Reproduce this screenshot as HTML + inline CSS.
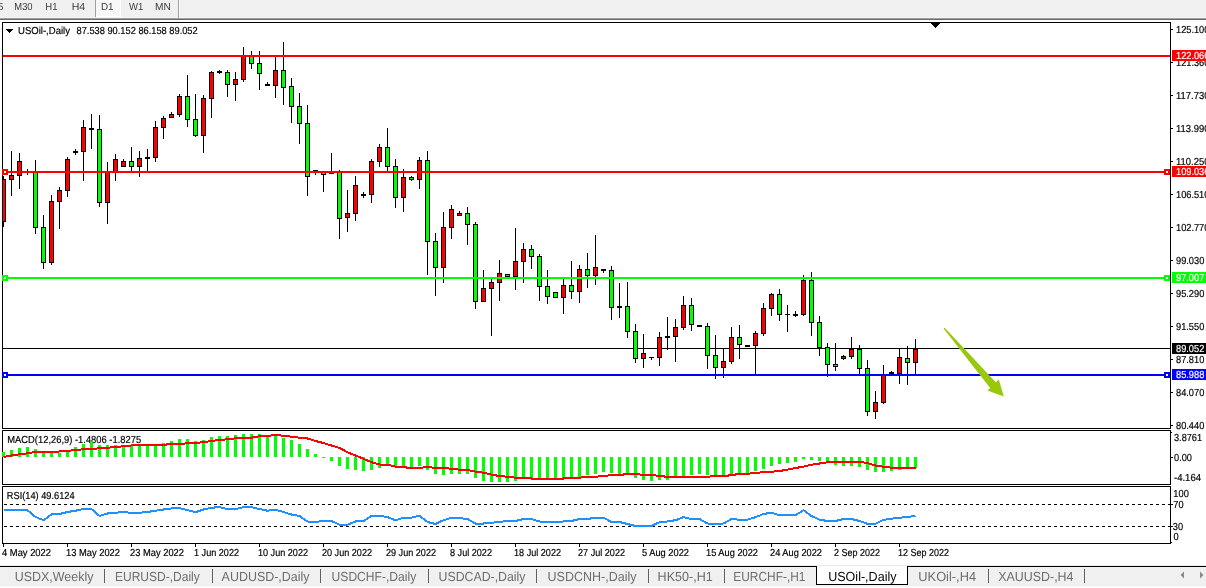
<!DOCTYPE html>
<html><head><meta charset="utf-8"><title>USOil-,Daily</title>
<style>
html,body{margin:0;padding:0;background:#fff;}
body{width:1206px;height:588px;overflow:hidden;}
svg{display:block;font-family:"Liberation Sans",sans-serif;text-rendering:geometricPrecision;}
</style></head><body>
<svg width="1206" height="588" viewBox="0 0 1206 588" shape-rendering="crispEdges">
<defs><clipPath id="cm"><rect x="3" y="23" width="1167" height="405"/></clipPath></defs>
<rect x="0" y="0" width="1206" height="588" fill="#fff"/>
<rect x="0" y="0" width="1206" height="17" fill="#f0f0f0"/>
<rect x="0" y="17" width="1206" height="1" fill="#f6f6f6"/>
<rect x="0" y="18" width="1206" height="1" fill="#a0a0a0"/>
<rect x="0" y="19" width="1206" height="1" fill="#696969"/>
<rect x="95" y="0" width="1" height="17" fill="#a0a0a0"/>
<rect x="96" y="0" width="24" height="16" fill="#f8f8f8"/>
<rect x="96" y="16" width="25" height="1" fill="#ffffff"/>
<rect x="120" y="0" width="1" height="17" fill="#ffffff"/>
<rect x="178" y="0" width="1" height="18" fill="#a0a0a0"/>
<rect x="179" y="0" width="1" height="18" fill="#fbfbfb"/>
<text x="-15.4" y="10" font-size="10.2" fill="#3c3c3c" stroke="#3c3c3c" stroke-width="0" textLength="18.8" lengthAdjust="spacingAndGlyphs">M15</text>
<text x="14.3" y="10" font-size="10.2" fill="#3c3c3c" stroke="#3c3c3c" stroke-width="0" textLength="18.3" lengthAdjust="spacingAndGlyphs">M30</text>
<text x="45.3" y="10" font-size="10.2" fill="#3c3c3c" stroke="#3c3c3c" stroke-width="0" textLength="12.2" lengthAdjust="spacingAndGlyphs">H1</text>
<text x="71.7" y="10" font-size="10.2" fill="#3c3c3c" stroke="#3c3c3c" stroke-width="0" textLength="13.5" lengthAdjust="spacingAndGlyphs">H4</text>
<text x="101" y="10" font-size="10.2" fill="#3c3c3c" stroke="#3c3c3c" stroke-width="0" textLength="12.6" lengthAdjust="spacingAndGlyphs">D1</text>
<text x="129" y="10" font-size="10.2" fill="#3c3c3c" stroke="#3c3c3c" stroke-width="0" textLength="14.3" lengthAdjust="spacingAndGlyphs">W1</text>
<text x="155" y="10" font-size="10.2" fill="#3c3c3c" stroke="#3c3c3c" stroke-width="0" textLength="15.8" lengthAdjust="spacingAndGlyphs">MN</text>
<rect x="2" y="22" width="1169" height="1" fill="#000"/>
<rect x="2" y="428" width="1169" height="1" fill="#000"/>
<rect x="2" y="22" width="1" height="407" fill="#000"/>
<rect x="1170" y="22" width="1" height="407" fill="#000"/>
<rect x="2" y="430" width="1169" height="1" fill="#000"/>
<rect x="2" y="484" width="1169" height="1" fill="#000"/>
<rect x="2" y="430" width="1" height="55" fill="#000"/>
<rect x="1170" y="430" width="1" height="55" fill="#000"/>
<rect x="2" y="486" width="1169" height="1" fill="#000"/>
<rect x="2" y="543" width="1169" height="1" fill="#000"/>
<rect x="2" y="486" width="1" height="58" fill="#000"/>
<rect x="1170" y="486" width="1" height="58" fill="#000"/>
<rect x="3" y="348" width="1167" height="1" fill="#000"/>
<g clip-path="url(#cm)">
<rect x="3" y="176" width="1" height="51" fill="#000"/>
<rect x="1" y="179" width="5" height="43" fill="#000"/>
<rect x="2" y="180" width="3" height="41" fill="#ff0000"/>
<rect x="11" y="151" width="1" height="45" fill="#000"/>
<rect x="9" y="175" width="5" height="5" fill="#000"/>
<rect x="10" y="176" width="3" height="3" fill="#ff0000"/>
<rect x="19" y="153" width="1" height="36" fill="#000"/>
<rect x="17" y="161" width="5" height="15" fill="#000"/>
<rect x="18" y="162" width="3" height="13" fill="#ff0000"/>
<rect x="27" y="169" width="1" height="6" fill="#000"/>
<rect x="25" y="171" width="5" height="1" fill="#000"/>
<rect x="35" y="160" width="1" height="74" fill="#000"/>
<rect x="33" y="172" width="5" height="56" fill="#000"/>
<rect x="34" y="173" width="3" height="54" fill="#00ff00"/>
<rect x="43" y="215" width="1" height="54" fill="#000"/>
<rect x="41" y="227" width="5" height="36" fill="#000"/>
<rect x="42" y="228" width="3" height="34" fill="#00ff00"/>
<rect x="51" y="195" width="1" height="70" fill="#000"/>
<rect x="49" y="201" width="5" height="62" fill="#000"/>
<rect x="50" y="202" width="3" height="60" fill="#ff0000"/>
<rect x="59" y="187" width="1" height="42" fill="#000"/>
<rect x="57" y="190" width="5" height="12" fill="#000"/>
<rect x="58" y="191" width="3" height="10" fill="#ff0000"/>
<rect x="67" y="157" width="1" height="40" fill="#000"/>
<rect x="65" y="159" width="5" height="32" fill="#000"/>
<rect x="66" y="160" width="3" height="30" fill="#ff0000"/>
<rect x="75" y="149" width="1" height="6" fill="#000"/>
<rect x="73" y="151" width="5" height="2" fill="#000"/>
<rect x="83" y="120" width="1" height="61" fill="#000"/>
<rect x="81" y="127" width="5" height="25" fill="#000"/>
<rect x="82" y="128" width="3" height="23" fill="#ff0000"/>
<rect x="91" y="114" width="1" height="35" fill="#000"/>
<rect x="89" y="128" width="5" height="2" fill="#000"/>
<rect x="99" y="115" width="1" height="92" fill="#000"/>
<rect x="97" y="129" width="5" height="74" fill="#000"/>
<rect x="98" y="130" width="3" height="72" fill="#00ff00"/>
<rect x="107" y="162" width="1" height="62" fill="#000"/>
<rect x="105" y="172" width="5" height="31" fill="#000"/>
<rect x="106" y="173" width="3" height="29" fill="#ff0000"/>
<rect x="115" y="154" width="1" height="27" fill="#000"/>
<rect x="113" y="159" width="5" height="13" fill="#000"/>
<rect x="114" y="160" width="3" height="11" fill="#ff0000"/>
<rect x="123" y="159" width="1" height="8" fill="#000"/>
<rect x="121" y="161" width="5" height="6" fill="#000"/>
<rect x="122" y="162" width="3" height="4" fill="#ff0000"/>
<rect x="131" y="147" width="1" height="25" fill="#000"/>
<rect x="129" y="161" width="5" height="6" fill="#000"/>
<rect x="130" y="162" width="3" height="4" fill="#00ff00"/>
<rect x="139" y="151" width="1" height="26" fill="#000"/>
<rect x="137" y="158" width="5" height="9" fill="#000"/>
<rect x="138" y="159" width="3" height="7" fill="#ff0000"/>
<rect x="147" y="149" width="1" height="23" fill="#000"/>
<rect x="145" y="157" width="5" height="2" fill="#000"/>
<rect x="155" y="121" width="1" height="41" fill="#000"/>
<rect x="153" y="127" width="5" height="31" fill="#000"/>
<rect x="154" y="128" width="3" height="29" fill="#ff0000"/>
<rect x="163" y="116" width="1" height="23" fill="#000"/>
<rect x="161" y="118" width="5" height="10" fill="#000"/>
<rect x="162" y="119" width="3" height="8" fill="#ff0000"/>
<rect x="171" y="112" width="1" height="6" fill="#000"/>
<rect x="169" y="114" width="5" height="4" fill="#000"/>
<rect x="170" y="115" width="3" height="2" fill="#ff0000"/>
<rect x="179" y="94" width="1" height="23" fill="#000"/>
<rect x="177" y="96" width="5" height="19" fill="#000"/>
<rect x="178" y="97" width="3" height="17" fill="#ff0000"/>
<rect x="187" y="75" width="1" height="52" fill="#000"/>
<rect x="185" y="96" width="5" height="24" fill="#000"/>
<rect x="186" y="97" width="3" height="22" fill="#00ff00"/>
<rect x="195" y="94" width="1" height="43" fill="#000"/>
<rect x="193" y="119" width="5" height="17" fill="#000"/>
<rect x="194" y="120" width="3" height="15" fill="#00ff00"/>
<rect x="203" y="95" width="1" height="58" fill="#000"/>
<rect x="201" y="98" width="5" height="38" fill="#000"/>
<rect x="202" y="99" width="3" height="36" fill="#ff0000"/>
<rect x="211" y="71" width="1" height="47" fill="#000"/>
<rect x="209" y="72" width="5" height="27" fill="#000"/>
<rect x="210" y="73" width="3" height="25" fill="#ff0000"/>
<rect x="219" y="70" width="1" height="4" fill="#000"/>
<rect x="217" y="71" width="5" height="2" fill="#000"/>
<rect x="227" y="70" width="1" height="27" fill="#000"/>
<rect x="225" y="72" width="5" height="13" fill="#000"/>
<rect x="226" y="73" width="3" height="11" fill="#00ff00"/>
<rect x="235" y="72" width="1" height="29" fill="#000"/>
<rect x="233" y="79" width="5" height="6" fill="#000"/>
<rect x="234" y="80" width="3" height="4" fill="#ff0000"/>
<rect x="243" y="47" width="1" height="35" fill="#000"/>
<rect x="241" y="56" width="5" height="24" fill="#000"/>
<rect x="242" y="57" width="3" height="22" fill="#ff0000"/>
<rect x="251" y="51" width="1" height="18" fill="#000"/>
<rect x="249" y="56" width="5" height="8" fill="#000"/>
<rect x="250" y="57" width="3" height="6" fill="#00ff00"/>
<rect x="259" y="51" width="1" height="39" fill="#000"/>
<rect x="257" y="63" width="5" height="11" fill="#000"/>
<rect x="258" y="64" width="3" height="9" fill="#00ff00"/>
<rect x="267" y="82" width="1" height="4" fill="#000"/>
<rect x="265" y="84" width="5" height="2" fill="#000"/>
<rect x="275" y="57" width="1" height="41" fill="#000"/>
<rect x="273" y="70" width="5" height="16" fill="#000"/>
<rect x="274" y="71" width="3" height="14" fill="#ff0000"/>
<rect x="283" y="42" width="1" height="63" fill="#000"/>
<rect x="281" y="70" width="5" height="18" fill="#000"/>
<rect x="282" y="71" width="3" height="16" fill="#00ff00"/>
<rect x="291" y="78" width="1" height="45" fill="#000"/>
<rect x="289" y="86" width="5" height="21" fill="#000"/>
<rect x="290" y="87" width="3" height="19" fill="#00ff00"/>
<rect x="299" y="93" width="1" height="51" fill="#000"/>
<rect x="297" y="106" width="5" height="18" fill="#000"/>
<rect x="298" y="107" width="3" height="16" fill="#00ff00"/>
<rect x="307" y="105" width="1" height="91" fill="#000"/>
<rect x="305" y="123" width="5" height="54" fill="#000"/>
<rect x="306" y="124" width="3" height="52" fill="#00ff00"/>
<rect x="315" y="170" width="1" height="5" fill="#000"/>
<rect x="313" y="170" width="5" height="1" fill="#000"/>
<rect x="323" y="171" width="1" height="21" fill="#000"/>
<rect x="321" y="171" width="5" height="4" fill="#000"/>
<rect x="322" y="172" width="3" height="2" fill="#00ff00"/>
<rect x="331" y="153" width="1" height="21" fill="#000"/>
<rect x="329" y="173" width="5" height="1" fill="#000"/>
<rect x="339" y="170" width="1" height="69" fill="#000"/>
<rect x="337" y="172" width="5" height="47" fill="#000"/>
<rect x="338" y="173" width="3" height="45" fill="#00ff00"/>
<rect x="347" y="190" width="1" height="42" fill="#000"/>
<rect x="345" y="213" width="5" height="5" fill="#000"/>
<rect x="346" y="214" width="3" height="3" fill="#ff0000"/>
<rect x="355" y="176" width="1" height="45" fill="#000"/>
<rect x="353" y="185" width="5" height="29" fill="#000"/>
<rect x="354" y="186" width="3" height="27" fill="#ff0000"/>
<rect x="363" y="192" width="1" height="6" fill="#000"/>
<rect x="361" y="194" width="5" height="2" fill="#000"/>
<rect x="371" y="159" width="1" height="44" fill="#000"/>
<rect x="369" y="161" width="5" height="34" fill="#000"/>
<rect x="370" y="162" width="3" height="32" fill="#ff0000"/>
<rect x="379" y="144" width="1" height="23" fill="#000"/>
<rect x="377" y="147" width="5" height="15" fill="#000"/>
<rect x="378" y="148" width="3" height="13" fill="#ff0000"/>
<rect x="387" y="128" width="1" height="43" fill="#000"/>
<rect x="385" y="147" width="5" height="20" fill="#000"/>
<rect x="386" y="148" width="3" height="18" fill="#00ff00"/>
<rect x="395" y="159" width="1" height="49" fill="#000"/>
<rect x="393" y="166" width="5" height="32" fill="#000"/>
<rect x="394" y="167" width="3" height="30" fill="#00ff00"/>
<rect x="403" y="169" width="1" height="43" fill="#000"/>
<rect x="401" y="177" width="5" height="21" fill="#000"/>
<rect x="402" y="178" width="3" height="19" fill="#ff0000"/>
<rect x="411" y="176" width="1" height="5" fill="#000"/>
<rect x="409" y="177" width="5" height="3" fill="#000"/>
<rect x="410" y="178" width="3" height="1" fill="#00ff00"/>
<rect x="419" y="157" width="1" height="32" fill="#000"/>
<rect x="417" y="160" width="5" height="20" fill="#000"/>
<rect x="418" y="161" width="3" height="18" fill="#ff0000"/>
<rect x="427" y="151" width="1" height="124" fill="#000"/>
<rect x="425" y="160" width="5" height="82" fill="#000"/>
<rect x="426" y="161" width="3" height="80" fill="#00ff00"/>
<rect x="435" y="233" width="1" height="63" fill="#000"/>
<rect x="433" y="241" width="5" height="27" fill="#000"/>
<rect x="434" y="242" width="3" height="25" fill="#00ff00"/>
<rect x="443" y="212" width="1" height="71" fill="#000"/>
<rect x="441" y="227" width="5" height="41" fill="#000"/>
<rect x="442" y="228" width="3" height="39" fill="#ff0000"/>
<rect x="451" y="205" width="1" height="34" fill="#000"/>
<rect x="449" y="209" width="5" height="19" fill="#000"/>
<rect x="450" y="210" width="3" height="17" fill="#ff0000"/>
<rect x="459" y="211" width="1" height="5" fill="#000"/>
<rect x="457" y="213" width="5" height="3" fill="#000"/>
<rect x="458" y="214" width="3" height="1" fill="#ff0000"/>
<rect x="467" y="207" width="1" height="38" fill="#000"/>
<rect x="465" y="213" width="5" height="12" fill="#000"/>
<rect x="466" y="214" width="3" height="10" fill="#00ff00"/>
<rect x="475" y="222" width="1" height="87" fill="#000"/>
<rect x="473" y="224" width="5" height="78" fill="#000"/>
<rect x="474" y="225" width="3" height="76" fill="#00ff00"/>
<rect x="483" y="270" width="1" height="32" fill="#000"/>
<rect x="481" y="288" width="5" height="14" fill="#000"/>
<rect x="482" y="289" width="3" height="12" fill="#ff0000"/>
<rect x="491" y="279" width="1" height="57" fill="#000"/>
<rect x="489" y="282" width="5" height="7" fill="#000"/>
<rect x="490" y="283" width="3" height="5" fill="#ff0000"/>
<rect x="499" y="260" width="1" height="41" fill="#000"/>
<rect x="497" y="273" width="5" height="10" fill="#000"/>
<rect x="498" y="274" width="3" height="8" fill="#ff0000"/>
<rect x="507" y="274" width="1" height="3" fill="#000"/>
<rect x="505" y="274" width="5" height="3" fill="#000"/>
<rect x="506" y="275" width="3" height="1" fill="#00ff00"/>
<rect x="515" y="228" width="1" height="62" fill="#000"/>
<rect x="513" y="261" width="5" height="16" fill="#000"/>
<rect x="514" y="262" width="3" height="14" fill="#ff0000"/>
<rect x="523" y="243" width="1" height="40" fill="#000"/>
<rect x="521" y="249" width="5" height="13" fill="#000"/>
<rect x="522" y="250" width="3" height="11" fill="#ff0000"/>
<rect x="531" y="245" width="1" height="24" fill="#000"/>
<rect x="529" y="249" width="5" height="8" fill="#000"/>
<rect x="530" y="250" width="3" height="6" fill="#00ff00"/>
<rect x="539" y="254" width="1" height="47" fill="#000"/>
<rect x="537" y="256" width="5" height="31" fill="#000"/>
<rect x="538" y="257" width="3" height="29" fill="#00ff00"/>
<rect x="547" y="270" width="1" height="34" fill="#000"/>
<rect x="545" y="286" width="5" height="11" fill="#000"/>
<rect x="546" y="287" width="3" height="9" fill="#00ff00"/>
<rect x="555" y="292" width="1" height="6" fill="#000"/>
<rect x="553" y="292" width="5" height="6" fill="#000"/>
<rect x="554" y="293" width="3" height="4" fill="#00ff00"/>
<rect x="563" y="279" width="1" height="35" fill="#000"/>
<rect x="561" y="285" width="5" height="13" fill="#000"/>
<rect x="562" y="286" width="3" height="11" fill="#ff0000"/>
<rect x="571" y="261" width="1" height="38" fill="#000"/>
<rect x="569" y="285" width="5" height="7" fill="#000"/>
<rect x="570" y="286" width="3" height="5" fill="#00ff00"/>
<rect x="579" y="265" width="1" height="38" fill="#000"/>
<rect x="577" y="269" width="5" height="23" fill="#000"/>
<rect x="578" y="270" width="3" height="21" fill="#ff0000"/>
<rect x="587" y="253" width="1" height="35" fill="#000"/>
<rect x="585" y="269" width="5" height="7" fill="#000"/>
<rect x="586" y="270" width="3" height="5" fill="#00ff00"/>
<rect x="595" y="235" width="1" height="50" fill="#000"/>
<rect x="593" y="267" width="5" height="9" fill="#000"/>
<rect x="594" y="268" width="3" height="7" fill="#ff0000"/>
<rect x="603" y="269" width="1" height="4" fill="#000"/>
<rect x="601" y="269" width="5" height="2" fill="#000"/>
<rect x="611" y="266" width="1" height="54" fill="#000"/>
<rect x="609" y="270" width="5" height="38" fill="#000"/>
<rect x="610" y="271" width="3" height="36" fill="#00ff00"/>
<rect x="619" y="283" width="1" height="35" fill="#000"/>
<rect x="617" y="306" width="5" height="2" fill="#000"/>
<rect x="627" y="282" width="1" height="56" fill="#000"/>
<rect x="625" y="306" width="5" height="26" fill="#000"/>
<rect x="626" y="307" width="3" height="24" fill="#00ff00"/>
<rect x="635" y="324" width="1" height="39" fill="#000"/>
<rect x="633" y="331" width="5" height="28" fill="#000"/>
<rect x="634" y="332" width="3" height="26" fill="#00ff00"/>
<rect x="643" y="334" width="1" height="34" fill="#000"/>
<rect x="641" y="353" width="5" height="6" fill="#000"/>
<rect x="642" y="354" width="3" height="4" fill="#ff0000"/>
<rect x="651" y="357" width="1" height="3" fill="#000"/>
<rect x="649" y="357" width="5" height="1" fill="#000"/>
<rect x="659" y="332" width="1" height="34" fill="#000"/>
<rect x="657" y="337" width="5" height="21" fill="#000"/>
<rect x="658" y="338" width="3" height="19" fill="#ff0000"/>
<rect x="667" y="317" width="1" height="33" fill="#000"/>
<rect x="665" y="336" width="5" height="2" fill="#000"/>
<rect x="675" y="319" width="1" height="43" fill="#000"/>
<rect x="673" y="327" width="5" height="10" fill="#000"/>
<rect x="674" y="328" width="3" height="8" fill="#ff0000"/>
<rect x="683" y="296" width="1" height="34" fill="#000"/>
<rect x="681" y="305" width="5" height="23" fill="#000"/>
<rect x="682" y="306" width="3" height="21" fill="#ff0000"/>
<rect x="691" y="298" width="1" height="33" fill="#000"/>
<rect x="689" y="305" width="5" height="20" fill="#000"/>
<rect x="690" y="306" width="3" height="18" fill="#00ff00"/>
<rect x="699" y="325" width="1" height="2" fill="#000"/>
<rect x="697" y="325" width="5" height="2" fill="#000"/>
<rect x="707" y="323" width="1" height="46" fill="#000"/>
<rect x="705" y="326" width="5" height="30" fill="#000"/>
<rect x="706" y="327" width="3" height="28" fill="#00ff00"/>
<rect x="715" y="335" width="1" height="44" fill="#000"/>
<rect x="713" y="355" width="5" height="13" fill="#000"/>
<rect x="714" y="356" width="3" height="11" fill="#00ff00"/>
<rect x="723" y="349" width="1" height="29" fill="#000"/>
<rect x="721" y="361" width="5" height="7" fill="#000"/>
<rect x="722" y="362" width="3" height="5" fill="#ff0000"/>
<rect x="731" y="327" width="1" height="37" fill="#000"/>
<rect x="729" y="337" width="5" height="25" fill="#000"/>
<rect x="730" y="338" width="3" height="23" fill="#ff0000"/>
<rect x="739" y="325" width="1" height="34" fill="#000"/>
<rect x="737" y="337" width="5" height="8" fill="#000"/>
<rect x="738" y="338" width="3" height="6" fill="#00ff00"/>
<rect x="747" y="345" width="1" height="2" fill="#000"/>
<rect x="745" y="345" width="5" height="2" fill="#000"/>
<rect x="755" y="331" width="1" height="44" fill="#000"/>
<rect x="753" y="333" width="5" height="13" fill="#000"/>
<rect x="754" y="334" width="3" height="11" fill="#ff0000"/>
<rect x="763" y="303" width="1" height="33" fill="#000"/>
<rect x="761" y="308" width="5" height="26" fill="#000"/>
<rect x="762" y="309" width="3" height="24" fill="#ff0000"/>
<rect x="771" y="293" width="1" height="23" fill="#000"/>
<rect x="769" y="294" width="5" height="15" fill="#000"/>
<rect x="770" y="295" width="3" height="13" fill="#ff0000"/>
<rect x="779" y="289" width="1" height="32" fill="#000"/>
<rect x="777" y="294" width="5" height="21" fill="#000"/>
<rect x="778" y="295" width="3" height="19" fill="#00ff00"/>
<rect x="787" y="305" width="1" height="27" fill="#000"/>
<rect x="785" y="314" width="5" height="1" fill="#000"/>
<rect x="795" y="311" width="1" height="6" fill="#000"/>
<rect x="793" y="314" width="5" height="2" fill="#000"/>
<rect x="803" y="275" width="1" height="41" fill="#000"/>
<rect x="801" y="280" width="5" height="35" fill="#000"/>
<rect x="802" y="281" width="3" height="33" fill="#ff0000"/>
<rect x="811" y="272" width="1" height="64" fill="#000"/>
<rect x="809" y="280" width="5" height="43" fill="#000"/>
<rect x="810" y="281" width="3" height="41" fill="#00ff00"/>
<rect x="819" y="316" width="1" height="40" fill="#000"/>
<rect x="817" y="322" width="5" height="26" fill="#000"/>
<rect x="818" y="323" width="3" height="24" fill="#00ff00"/>
<rect x="827" y="343" width="1" height="34" fill="#000"/>
<rect x="825" y="347" width="5" height="18" fill="#000"/>
<rect x="826" y="348" width="3" height="16" fill="#00ff00"/>
<rect x="835" y="343" width="1" height="28" fill="#000"/>
<rect x="833" y="364" width="5" height="3" fill="#000"/>
<rect x="834" y="365" width="3" height="1" fill="#00ff00"/>
<rect x="843" y="355" width="1" height="5" fill="#000"/>
<rect x="841" y="356" width="5" height="3" fill="#000"/>
<rect x="842" y="357" width="3" height="1" fill="#ff0000"/>
<rect x="851" y="337" width="1" height="22" fill="#000"/>
<rect x="849" y="349" width="5" height="8" fill="#000"/>
<rect x="850" y="350" width="3" height="6" fill="#ff0000"/>
<rect x="859" y="345" width="1" height="30" fill="#000"/>
<rect x="857" y="349" width="5" height="20" fill="#000"/>
<rect x="858" y="350" width="3" height="18" fill="#00ff00"/>
<rect x="867" y="360" width="1" height="56" fill="#000"/>
<rect x="865" y="368" width="5" height="44" fill="#000"/>
<rect x="866" y="369" width="3" height="42" fill="#00ff00"/>
<rect x="875" y="391" width="1" height="28" fill="#000"/>
<rect x="873" y="402" width="5" height="10" fill="#000"/>
<rect x="874" y="403" width="3" height="8" fill="#ff0000"/>
<rect x="883" y="365" width="1" height="39" fill="#000"/>
<rect x="881" y="375" width="5" height="28" fill="#000"/>
<rect x="882" y="376" width="3" height="26" fill="#ff0000"/>
<rect x="891" y="371" width="1" height="3" fill="#000"/>
<rect x="889" y="372" width="5" height="2" fill="#000"/>
<rect x="899" y="349" width="1" height="35" fill="#000"/>
<rect x="897" y="357" width="5" height="17" fill="#000"/>
<rect x="898" y="358" width="3" height="15" fill="#ff0000"/>
<rect x="907" y="346" width="1" height="39" fill="#000"/>
<rect x="905" y="358" width="5" height="5" fill="#000"/>
<rect x="906" y="359" width="3" height="3" fill="#00ff00"/>
<rect x="915" y="339" width="1" height="36" fill="#000"/>
<rect x="913" y="349" width="5" height="14" fill="#000"/>
<rect x="914" y="350" width="3" height="12" fill="#ff0000"/>
</g>
<rect x="3" y="55" width="1167" height="2" fill="#ff0000"/>
<rect x="3" y="171" width="1167" height="2" fill="#ff0000"/>
<rect x="3" y="277" width="1167" height="2" fill="#00ff00"/>
<rect x="3" y="374" width="1167" height="2" fill="#0000ff"/>
<rect x="2" y="169" width="6" height="6" fill="#ff0000"/>
<rect x="4" y="171" width="2" height="2" fill="#fff"/>
<rect x="1164" y="169" width="6" height="6" fill="#ff0000"/>
<rect x="1166" y="171" width="2" height="2" fill="#fff"/>
<rect x="2" y="275" width="6" height="6" fill="#00ff00"/>
<rect x="4" y="277" width="2" height="2" fill="#fff"/>
<rect x="1164" y="275" width="6" height="6" fill="#00ff00"/>
<rect x="1166" y="277" width="2" height="2" fill="#fff"/>
<rect x="2" y="372" width="6" height="6" fill="#0000ff"/>
<rect x="4" y="374" width="2" height="2" fill="#fff"/>
<rect x="1164" y="372" width="6" height="6" fill="#0000ff"/>
<rect x="1166" y="374" width="2" height="2" fill="#fff"/>
<rect x="931" y="23" width="9" height="1" fill="#000"/>
<rect x="932" y="24" width="7" height="1" fill="#000"/>
<rect x="933" y="25" width="5" height="1" fill="#000"/>
<rect x="934" y="26" width="3" height="1" fill="#000"/>
<rect x="935" y="27" width="1" height="1" fill="#000"/>
<rect x="6" y="29" width="7" height="1" fill="#000"/>
<rect x="7" y="30" width="5" height="1" fill="#000"/>
<rect x="8" y="31" width="3" height="1" fill="#000"/>
<rect x="9" y="32" width="1" height="1" fill="#000"/>
<polygon shape-rendering="geometricPrecision" fill="#98c80a" points="943.6,328.6 944.7,327.7 995.8,382.2 998.8,379.6 1003.8,396.5 987.3,390.6 990.1,387.9"/>
<rect x="1171" y="29" width="2" height="1" fill="#000"/>
<text x="1176" y="32.6" font-size="10.2" fill="#000" stroke="#000" stroke-width="0.18" textLength="33.4" lengthAdjust="spacingAndGlyphs">125.100</text>
<rect x="1171" y="62" width="2" height="1" fill="#000"/>
<text x="1176" y="65.6" font-size="10.2" fill="#000" stroke="#000" stroke-width="0.18" textLength="33.4" lengthAdjust="spacingAndGlyphs">121.360</text>
<rect x="1171" y="95" width="2" height="1" fill="#000"/>
<text x="1176" y="98.6" font-size="10.2" fill="#000" stroke="#000" stroke-width="0.18" textLength="33.4" lengthAdjust="spacingAndGlyphs">117.730</text>
<rect x="1171" y="128" width="2" height="1" fill="#000"/>
<text x="1176" y="131.6" font-size="10.2" fill="#000" stroke="#000" stroke-width="0.18" textLength="33.4" lengthAdjust="spacingAndGlyphs">113.990</text>
<rect x="1171" y="161" width="2" height="1" fill="#000"/>
<text x="1176" y="164.6" font-size="10.2" fill="#000" stroke="#000" stroke-width="0.18" textLength="33.4" lengthAdjust="spacingAndGlyphs">110.250</text>
<rect x="1171" y="194" width="2" height="1" fill="#000"/>
<text x="1176" y="197.6" font-size="10.2" fill="#000" stroke="#000" stroke-width="0.18" textLength="33.4" lengthAdjust="spacingAndGlyphs">106.510</text>
<rect x="1171" y="227" width="2" height="1" fill="#000"/>
<text x="1176" y="230.6" font-size="10.2" fill="#000" stroke="#000" stroke-width="0.18" textLength="33.4" lengthAdjust="spacingAndGlyphs">102.770</text>
<rect x="1171" y="260" width="2" height="1" fill="#000"/>
<text x="1176" y="263.6" font-size="10.2" fill="#000" stroke="#000" stroke-width="0.18" textLength="28.3" lengthAdjust="spacingAndGlyphs">99.030</text>
<rect x="1171" y="293" width="2" height="1" fill="#000"/>
<text x="1176" y="296.6" font-size="10.2" fill="#000" stroke="#000" stroke-width="0.18" textLength="28.3" lengthAdjust="spacingAndGlyphs">95.290</text>
<rect x="1171" y="326" width="2" height="1" fill="#000"/>
<text x="1176" y="329.6" font-size="10.2" fill="#000" stroke="#000" stroke-width="0.18" textLength="28.3" lengthAdjust="spacingAndGlyphs">91.550</text>
<rect x="1171" y="359" width="2" height="1" fill="#000"/>
<text x="1176" y="362.6" font-size="10.2" fill="#000" stroke="#000" stroke-width="0.18" textLength="28.3" lengthAdjust="spacingAndGlyphs">87.810</text>
<rect x="1171" y="392" width="2" height="1" fill="#000"/>
<text x="1176" y="395.6" font-size="10.2" fill="#000" stroke="#000" stroke-width="0.18" textLength="28.3" lengthAdjust="spacingAndGlyphs">84.070</text>
<rect x="1171" y="425" width="2" height="1" fill="#000"/>
<text x="1176" y="428.6" font-size="10.2" fill="#000" stroke="#000" stroke-width="0.18" textLength="28.3" lengthAdjust="spacingAndGlyphs">80.440</text>
<rect x="1172" y="50" width="34" height="11" fill="#ff0000"/>
<text x="1176" y="58.6" font-size="10.2" fill="#fff" stroke="#fff" stroke-width="0.18" textLength="33.4" lengthAdjust="spacingAndGlyphs">122.066</text>
<rect x="1172" y="166" width="34" height="11" fill="#ff0000"/>
<text x="1176" y="174.6" font-size="10.2" fill="#fff" stroke="#fff" stroke-width="0.18" textLength="33.4" lengthAdjust="spacingAndGlyphs">109.036</text>
<rect x="1172" y="272" width="34" height="11" fill="#00ff00"/>
<text x="1176" y="280.6" font-size="10.2" fill="#fff" stroke="#fff" stroke-width="0.18" textLength="28.3" lengthAdjust="spacingAndGlyphs">97.007</text>
<rect x="1172" y="343" width="34" height="11" fill="#000000"/>
<text x="1176" y="351.6" font-size="10.2" fill="#fff" stroke="#fff" stroke-width="0.18" textLength="28.3" lengthAdjust="spacingAndGlyphs">89.052</text>
<rect x="1172" y="369" width="34" height="11" fill="#0000ff"/>
<text x="1176" y="377.6" font-size="10.2" fill="#fff" stroke="#fff" stroke-width="0.18" textLength="28.3" lengthAdjust="spacingAndGlyphs">85.988</text>
<text x="18" y="34" font-size="10.2" fill="#000" stroke="#000" stroke-width="0.18" textLength="52" lengthAdjust="spacingAndGlyphs">USOil-,Daily</text>
<text x="76.5" y="34" font-size="10.2" fill="#000" stroke="#000" stroke-width="0.18" textLength="121.2" lengthAdjust="spacingAndGlyphs">87.538 90.152 86.158 89.052</text>
<text x="7.3" y="443.3" font-size="10.2" fill="#000" stroke="#000" stroke-width="0.18" textLength="133.8" lengthAdjust="spacingAndGlyphs">MACD(12,26,9) -1.4806 -1.8275</text>
<text x="6.8" y="499" font-size="10.2" fill="#000" stroke="#000" stroke-width="0.18" textLength="67.8" lengthAdjust="spacingAndGlyphs">RSI(14) 49.6124</text>
<rect x="2" y="452" width="3" height="5" fill="#00ff00"/>
<rect x="10" y="450" width="3" height="7" fill="#00ff00"/>
<rect x="18" y="448" width="3" height="9" fill="#00ff00"/>
<rect x="26" y="447" width="3" height="10" fill="#00ff00"/>
<rect x="34" y="449" width="3" height="8" fill="#00ff00"/>
<rect x="42" y="453" width="3" height="4" fill="#00ff00"/>
<rect x="50" y="453" width="3" height="4" fill="#00ff00"/>
<rect x="58" y="453" width="3" height="4" fill="#00ff00"/>
<rect x="66" y="451" width="3" height="6" fill="#00ff00"/>
<rect x="74" y="447" width="3" height="10" fill="#00ff00"/>
<rect x="82" y="444" width="3" height="13" fill="#00ff00"/>
<rect x="90" y="441" width="3" height="16" fill="#00ff00"/>
<rect x="98" y="445" width="3" height="12" fill="#00ff00"/>
<rect x="106" y="445" width="3" height="12" fill="#00ff00"/>
<rect x="114" y="445" width="3" height="12" fill="#00ff00"/>
<rect x="122" y="445" width="3" height="12" fill="#00ff00"/>
<rect x="130" y="446" width="3" height="11" fill="#00ff00"/>
<rect x="138" y="446" width="3" height="11" fill="#00ff00"/>
<rect x="146" y="446" width="3" height="11" fill="#00ff00"/>
<rect x="154" y="444" width="3" height="13" fill="#00ff00"/>
<rect x="162" y="443" width="3" height="14" fill="#00ff00"/>
<rect x="170" y="441" width="3" height="16" fill="#00ff00"/>
<rect x="178" y="439" width="3" height="18" fill="#00ff00"/>
<rect x="186" y="439" width="3" height="18" fill="#00ff00"/>
<rect x="194" y="441" width="3" height="16" fill="#00ff00"/>
<rect x="202" y="440" width="3" height="17" fill="#00ff00"/>
<rect x="210" y="437" width="3" height="20" fill="#00ff00"/>
<rect x="218" y="436" width="3" height="21" fill="#00ff00"/>
<rect x="226" y="436" width="3" height="21" fill="#00ff00"/>
<rect x="234" y="435" width="3" height="22" fill="#00ff00"/>
<rect x="242" y="434" width="3" height="23" fill="#00ff00"/>
<rect x="250" y="434" width="3" height="23" fill="#00ff00"/>
<rect x="258" y="434" width="3" height="23" fill="#00ff00"/>
<rect x="266" y="435" width="3" height="22" fill="#00ff00"/>
<rect x="274" y="436" width="3" height="21" fill="#00ff00"/>
<rect x="282" y="438" width="3" height="19" fill="#00ff00"/>
<rect x="290" y="440" width="3" height="17" fill="#00ff00"/>
<rect x="298" y="444" width="3" height="13" fill="#00ff00"/>
<rect x="306" y="449" width="3" height="8" fill="#00ff00"/>
<rect x="314" y="454" width="3" height="3" fill="#00ff00"/>
<rect x="322" y="457" width="3" height="1" fill="#00ff00"/>
<rect x="330" y="457" width="3" height="4" fill="#00ff00"/>
<rect x="338" y="457" width="3" height="9" fill="#00ff00"/>
<rect x="346" y="457" width="3" height="12" fill="#00ff00"/>
<rect x="354" y="457" width="3" height="13" fill="#00ff00"/>
<rect x="362" y="457" width="3" height="14" fill="#00ff00"/>
<rect x="370" y="457" width="3" height="13" fill="#00ff00"/>
<rect x="378" y="457" width="3" height="11" fill="#00ff00"/>
<rect x="386" y="457" width="3" height="9" fill="#00ff00"/>
<rect x="394" y="457" width="3" height="9" fill="#00ff00"/>
<rect x="402" y="457" width="3" height="9" fill="#00ff00"/>
<rect x="410" y="457" width="3" height="10" fill="#00ff00"/>
<rect x="418" y="457" width="3" height="9" fill="#00ff00"/>
<rect x="426" y="457" width="3" height="13" fill="#00ff00"/>
<rect x="434" y="457" width="3" height="17" fill="#00ff00"/>
<rect x="442" y="457" width="3" height="18" fill="#00ff00"/>
<rect x="450" y="457" width="3" height="17" fill="#00ff00"/>
<rect x="458" y="457" width="3" height="17" fill="#00ff00"/>
<rect x="466" y="457" width="3" height="17" fill="#00ff00"/>
<rect x="474" y="457" width="3" height="21" fill="#00ff00"/>
<rect x="482" y="457" width="3" height="24" fill="#00ff00"/>
<rect x="490" y="457" width="3" height="25" fill="#00ff00"/>
<rect x="498" y="457" width="3" height="25" fill="#00ff00"/>
<rect x="506" y="457" width="3" height="25" fill="#00ff00"/>
<rect x="514" y="457" width="3" height="24" fill="#00ff00"/>
<rect x="522" y="457" width="3" height="22" fill="#00ff00"/>
<rect x="530" y="457" width="3" height="21" fill="#00ff00"/>
<rect x="538" y="457" width="3" height="21" fill="#00ff00"/>
<rect x="546" y="457" width="3" height="21" fill="#00ff00"/>
<rect x="554" y="457" width="3" height="21" fill="#00ff00"/>
<rect x="562" y="457" width="3" height="21" fill="#00ff00"/>
<rect x="570" y="457" width="3" height="21" fill="#00ff00"/>
<rect x="578" y="457" width="3" height="20" fill="#00ff00"/>
<rect x="586" y="457" width="3" height="18" fill="#00ff00"/>
<rect x="594" y="457" width="3" height="17" fill="#00ff00"/>
<rect x="602" y="457" width="3" height="15" fill="#00ff00"/>
<rect x="610" y="457" width="3" height="16" fill="#00ff00"/>
<rect x="618" y="457" width="3" height="17" fill="#00ff00"/>
<rect x="626" y="457" width="3" height="18" fill="#00ff00"/>
<rect x="634" y="457" width="3" height="21" fill="#00ff00"/>
<rect x="642" y="457" width="3" height="23" fill="#00ff00"/>
<rect x="650" y="457" width="3" height="24" fill="#00ff00"/>
<rect x="658" y="457" width="3" height="23" fill="#00ff00"/>
<rect x="666" y="457" width="3" height="23" fill="#00ff00"/>
<rect x="674" y="457" width="3" height="20" fill="#00ff00"/>
<rect x="682" y="457" width="3" height="19" fill="#00ff00"/>
<rect x="690" y="457" width="3" height="18" fill="#00ff00"/>
<rect x="698" y="457" width="3" height="17" fill="#00ff00"/>
<rect x="706" y="457" width="3" height="18" fill="#00ff00"/>
<rect x="714" y="457" width="3" height="19" fill="#00ff00"/>
<rect x="722" y="457" width="3" height="19" fill="#00ff00"/>
<rect x="730" y="457" width="3" height="18" fill="#00ff00"/>
<rect x="738" y="457" width="3" height="17" fill="#00ff00"/>
<rect x="746" y="457" width="3" height="16" fill="#00ff00"/>
<rect x="754" y="457" width="3" height="14" fill="#00ff00"/>
<rect x="762" y="457" width="3" height="12" fill="#00ff00"/>
<rect x="770" y="457" width="3" height="9" fill="#00ff00"/>
<rect x="778" y="457" width="3" height="7" fill="#00ff00"/>
<rect x="786" y="457" width="3" height="6" fill="#00ff00"/>
<rect x="794" y="457" width="3" height="5" fill="#00ff00"/>
<rect x="802" y="457" width="3" height="2" fill="#00ff00"/>
<rect x="810" y="457" width="3" height="3" fill="#00ff00"/>
<rect x="818" y="457" width="3" height="4" fill="#00ff00"/>
<rect x="826" y="457" width="3" height="5" fill="#00ff00"/>
<rect x="834" y="457" width="3" height="8" fill="#00ff00"/>
<rect x="842" y="457" width="3" height="9" fill="#00ff00"/>
<rect x="850" y="457" width="3" height="9" fill="#00ff00"/>
<rect x="858" y="457" width="3" height="10" fill="#00ff00"/>
<rect x="866" y="457" width="3" height="13" fill="#00ff00"/>
<rect x="874" y="457" width="3" height="15" fill="#00ff00"/>
<rect x="882" y="457" width="3" height="15" fill="#00ff00"/>
<rect x="890" y="457" width="3" height="14" fill="#00ff00"/>
<rect x="898" y="457" width="3" height="13" fill="#00ff00"/>
<rect x="906" y="457" width="3" height="11" fill="#00ff00"/>
<rect x="914" y="457" width="3" height="11" fill="#00ff00"/>
<polyline points="3.5,457.0 11.5,455.5 19.5,454.3 27.5,453.3 35.5,452.0 43.5,452.0 51.5,452.0 59.5,451.5 67.5,451.0 75.5,450.0 83.5,449.3 91.5,449.0 99.5,448.3 107.5,447.7 115.5,447.0 123.5,446.3 131.5,445.5 139.5,445.0 147.5,444.7 155.5,444.7 163.5,444.7 171.5,444.2 179.5,443.8 187.5,443.4 195.5,443.0 203.5,442.2 211.5,441.0 219.5,440.0 227.5,439.3 235.5,438.3 243.5,438.0 251.5,437.7 259.5,436.3 267.5,436.0 275.5,435.0 283.5,435.8 291.5,436.7 299.5,437.7 307.5,438.5 315.5,441.0 323.5,443.0 331.5,445.5 339.5,448.0 347.5,452.2 355.5,455.5 363.5,458.8 371.5,462.2 379.5,464.5 387.5,464.7 395.5,466.7 403.5,467.2 411.5,468.0 419.5,468.0 427.5,466.8 435.5,468.0 443.5,468.0 451.5,468.8 459.5,469.7 467.5,470.0 475.5,471.7 483.5,472.7 491.5,474.7 499.5,476.0 507.5,476.8 515.5,477.7 523.5,477.7 531.5,478.5 539.5,478.5 547.5,478.5 555.5,478.5 563.5,478.5 571.5,478.3 579.5,477.7 587.5,476.8 595.5,476.8 603.5,476.0 611.5,475.2 619.5,475.2 627.5,473.8 635.5,473.8 643.5,475.0 651.5,475.0 659.5,476.0 667.5,476.8 675.5,476.8 683.5,476.8 691.5,476.8 699.5,476.8 707.5,476.8 715.5,476.0 723.5,476.0 731.5,475.2 739.5,473.8 747.5,473.8 755.5,473.0 763.5,472.2 771.5,471.7 779.5,471.0 787.5,469.7 795.5,468.0 803.5,466.7 811.5,464.7 819.5,463.5 827.5,462.2 835.5,461.8 843.5,461.8 851.5,461.8 859.5,461.8 867.5,463.0 875.5,465.5 883.5,466.7 891.5,467.7 899.5,468.0 907.5,468.0 915.5,468.0" fill="none" stroke="#ff0000" stroke-width="2" shape-rendering="crispEdges"/>
<rect x="1171" y="432" width="1" height="1" fill="#000"/>
<rect x="1171" y="457" width="2" height="1" fill="#000"/>
<rect x="1171" y="542" width="1" height="1" fill="#000"/>
<text x="1174" y="441" font-size="10.2" fill="#000" stroke="#000" stroke-width="0.18" textLength="28" lengthAdjust="spacingAndGlyphs">3.8761</text>
<text x="1174" y="461" font-size="10.2" fill="#000" stroke="#000" stroke-width="0.18" textLength="18" lengthAdjust="spacingAndGlyphs">0.00</text>
<text x="1174" y="481.3" font-size="10.2" fill="#000" stroke="#000" stroke-width="0.18" textLength="27" lengthAdjust="spacingAndGlyphs">-4.164</text>
<g fill="#000">
<rect x="4" y="504" width="3" height="1" fill="#000"/>
<rect x="10" y="504" width="3" height="1" fill="#000"/>
<rect x="16" y="504" width="3" height="1" fill="#000"/>
<rect x="22" y="504" width="3" height="1" fill="#000"/>
<rect x="28" y="504" width="3" height="1" fill="#000"/>
<rect x="34" y="504" width="3" height="1" fill="#000"/>
<rect x="40" y="504" width="3" height="1" fill="#000"/>
<rect x="46" y="504" width="3" height="1" fill="#000"/>
<rect x="52" y="504" width="3" height="1" fill="#000"/>
<rect x="58" y="504" width="3" height="1" fill="#000"/>
<rect x="64" y="504" width="3" height="1" fill="#000"/>
<rect x="70" y="504" width="3" height="1" fill="#000"/>
<rect x="76" y="504" width="3" height="1" fill="#000"/>
<rect x="82" y="504" width="3" height="1" fill="#000"/>
<rect x="88" y="504" width="3" height="1" fill="#000"/>
<rect x="94" y="504" width="3" height="1" fill="#000"/>
<rect x="100" y="504" width="3" height="1" fill="#000"/>
<rect x="106" y="504" width="3" height="1" fill="#000"/>
<rect x="112" y="504" width="3" height="1" fill="#000"/>
<rect x="118" y="504" width="3" height="1" fill="#000"/>
<rect x="124" y="504" width="3" height="1" fill="#000"/>
<rect x="130" y="504" width="3" height="1" fill="#000"/>
<rect x="136" y="504" width="3" height="1" fill="#000"/>
<rect x="142" y="504" width="3" height="1" fill="#000"/>
<rect x="148" y="504" width="3" height="1" fill="#000"/>
<rect x="154" y="504" width="3" height="1" fill="#000"/>
<rect x="160" y="504" width="3" height="1" fill="#000"/>
<rect x="166" y="504" width="3" height="1" fill="#000"/>
<rect x="172" y="504" width="3" height="1" fill="#000"/>
<rect x="178" y="504" width="3" height="1" fill="#000"/>
<rect x="184" y="504" width="3" height="1" fill="#000"/>
<rect x="190" y="504" width="3" height="1" fill="#000"/>
<rect x="196" y="504" width="3" height="1" fill="#000"/>
<rect x="202" y="504" width="3" height="1" fill="#000"/>
<rect x="208" y="504" width="3" height="1" fill="#000"/>
<rect x="214" y="504" width="3" height="1" fill="#000"/>
<rect x="220" y="504" width="3" height="1" fill="#000"/>
<rect x="226" y="504" width="3" height="1" fill="#000"/>
<rect x="232" y="504" width="3" height="1" fill="#000"/>
<rect x="238" y="504" width="3" height="1" fill="#000"/>
<rect x="244" y="504" width="3" height="1" fill="#000"/>
<rect x="250" y="504" width="3" height="1" fill="#000"/>
<rect x="256" y="504" width="3" height="1" fill="#000"/>
<rect x="262" y="504" width="3" height="1" fill="#000"/>
<rect x="268" y="504" width="3" height="1" fill="#000"/>
<rect x="274" y="504" width="3" height="1" fill="#000"/>
<rect x="280" y="504" width="3" height="1" fill="#000"/>
<rect x="286" y="504" width="3" height="1" fill="#000"/>
<rect x="292" y="504" width="3" height="1" fill="#000"/>
<rect x="298" y="504" width="3" height="1" fill="#000"/>
<rect x="304" y="504" width="3" height="1" fill="#000"/>
<rect x="310" y="504" width="3" height="1" fill="#000"/>
<rect x="316" y="504" width="3" height="1" fill="#000"/>
<rect x="322" y="504" width="3" height="1" fill="#000"/>
<rect x="328" y="504" width="3" height="1" fill="#000"/>
<rect x="334" y="504" width="3" height="1" fill="#000"/>
<rect x="340" y="504" width="3" height="1" fill="#000"/>
<rect x="346" y="504" width="3" height="1" fill="#000"/>
<rect x="352" y="504" width="3" height="1" fill="#000"/>
<rect x="358" y="504" width="3" height="1" fill="#000"/>
<rect x="364" y="504" width="3" height="1" fill="#000"/>
<rect x="370" y="504" width="3" height="1" fill="#000"/>
<rect x="376" y="504" width="3" height="1" fill="#000"/>
<rect x="382" y="504" width="3" height="1" fill="#000"/>
<rect x="388" y="504" width="3" height="1" fill="#000"/>
<rect x="394" y="504" width="3" height="1" fill="#000"/>
<rect x="400" y="504" width="3" height="1" fill="#000"/>
<rect x="406" y="504" width="3" height="1" fill="#000"/>
<rect x="412" y="504" width="3" height="1" fill="#000"/>
<rect x="418" y="504" width="3" height="1" fill="#000"/>
<rect x="424" y="504" width="3" height="1" fill="#000"/>
<rect x="430" y="504" width="3" height="1" fill="#000"/>
<rect x="436" y="504" width="3" height="1" fill="#000"/>
<rect x="442" y="504" width="3" height="1" fill="#000"/>
<rect x="448" y="504" width="3" height="1" fill="#000"/>
<rect x="454" y="504" width="3" height="1" fill="#000"/>
<rect x="460" y="504" width="3" height="1" fill="#000"/>
<rect x="466" y="504" width="3" height="1" fill="#000"/>
<rect x="472" y="504" width="3" height="1" fill="#000"/>
<rect x="478" y="504" width="3" height="1" fill="#000"/>
<rect x="484" y="504" width="3" height="1" fill="#000"/>
<rect x="490" y="504" width="3" height="1" fill="#000"/>
<rect x="496" y="504" width="3" height="1" fill="#000"/>
<rect x="502" y="504" width="3" height="1" fill="#000"/>
<rect x="508" y="504" width="3" height="1" fill="#000"/>
<rect x="514" y="504" width="3" height="1" fill="#000"/>
<rect x="520" y="504" width="3" height="1" fill="#000"/>
<rect x="526" y="504" width="3" height="1" fill="#000"/>
<rect x="532" y="504" width="3" height="1" fill="#000"/>
<rect x="538" y="504" width="3" height="1" fill="#000"/>
<rect x="544" y="504" width="3" height="1" fill="#000"/>
<rect x="550" y="504" width="3" height="1" fill="#000"/>
<rect x="556" y="504" width="3" height="1" fill="#000"/>
<rect x="562" y="504" width="3" height="1" fill="#000"/>
<rect x="568" y="504" width="3" height="1" fill="#000"/>
<rect x="574" y="504" width="3" height="1" fill="#000"/>
<rect x="580" y="504" width="3" height="1" fill="#000"/>
<rect x="586" y="504" width="3" height="1" fill="#000"/>
<rect x="592" y="504" width="3" height="1" fill="#000"/>
<rect x="598" y="504" width="3" height="1" fill="#000"/>
<rect x="604" y="504" width="3" height="1" fill="#000"/>
<rect x="610" y="504" width="3" height="1" fill="#000"/>
<rect x="616" y="504" width="3" height="1" fill="#000"/>
<rect x="622" y="504" width="3" height="1" fill="#000"/>
<rect x="628" y="504" width="3" height="1" fill="#000"/>
<rect x="634" y="504" width="3" height="1" fill="#000"/>
<rect x="640" y="504" width="3" height="1" fill="#000"/>
<rect x="646" y="504" width="3" height="1" fill="#000"/>
<rect x="652" y="504" width="3" height="1" fill="#000"/>
<rect x="658" y="504" width="3" height="1" fill="#000"/>
<rect x="664" y="504" width="3" height="1" fill="#000"/>
<rect x="670" y="504" width="3" height="1" fill="#000"/>
<rect x="676" y="504" width="3" height="1" fill="#000"/>
<rect x="682" y="504" width="3" height="1" fill="#000"/>
<rect x="688" y="504" width="3" height="1" fill="#000"/>
<rect x="694" y="504" width="3" height="1" fill="#000"/>
<rect x="700" y="504" width="3" height="1" fill="#000"/>
<rect x="706" y="504" width="3" height="1" fill="#000"/>
<rect x="712" y="504" width="3" height="1" fill="#000"/>
<rect x="718" y="504" width="3" height="1" fill="#000"/>
<rect x="724" y="504" width="3" height="1" fill="#000"/>
<rect x="730" y="504" width="3" height="1" fill="#000"/>
<rect x="736" y="504" width="3" height="1" fill="#000"/>
<rect x="742" y="504" width="3" height="1" fill="#000"/>
<rect x="748" y="504" width="3" height="1" fill="#000"/>
<rect x="754" y="504" width="3" height="1" fill="#000"/>
<rect x="760" y="504" width="3" height="1" fill="#000"/>
<rect x="766" y="504" width="3" height="1" fill="#000"/>
<rect x="772" y="504" width="3" height="1" fill="#000"/>
<rect x="778" y="504" width="3" height="1" fill="#000"/>
<rect x="784" y="504" width="3" height="1" fill="#000"/>
<rect x="790" y="504" width="3" height="1" fill="#000"/>
<rect x="796" y="504" width="3" height="1" fill="#000"/>
<rect x="802" y="504" width="3" height="1" fill="#000"/>
<rect x="808" y="504" width="3" height="1" fill="#000"/>
<rect x="814" y="504" width="3" height="1" fill="#000"/>
<rect x="820" y="504" width="3" height="1" fill="#000"/>
<rect x="826" y="504" width="3" height="1" fill="#000"/>
<rect x="832" y="504" width="3" height="1" fill="#000"/>
<rect x="838" y="504" width="3" height="1" fill="#000"/>
<rect x="844" y="504" width="3" height="1" fill="#000"/>
<rect x="850" y="504" width="3" height="1" fill="#000"/>
<rect x="856" y="504" width="3" height="1" fill="#000"/>
<rect x="862" y="504" width="3" height="1" fill="#000"/>
<rect x="868" y="504" width="3" height="1" fill="#000"/>
<rect x="874" y="504" width="3" height="1" fill="#000"/>
<rect x="880" y="504" width="3" height="1" fill="#000"/>
<rect x="886" y="504" width="3" height="1" fill="#000"/>
<rect x="892" y="504" width="3" height="1" fill="#000"/>
<rect x="898" y="504" width="3" height="1" fill="#000"/>
<rect x="904" y="504" width="3" height="1" fill="#000"/>
<rect x="910" y="504" width="3" height="1" fill="#000"/>
<rect x="916" y="504" width="3" height="1" fill="#000"/>
<rect x="922" y="504" width="3" height="1" fill="#000"/>
<rect x="928" y="504" width="3" height="1" fill="#000"/>
<rect x="934" y="504" width="3" height="1" fill="#000"/>
<rect x="940" y="504" width="3" height="1" fill="#000"/>
<rect x="946" y="504" width="3" height="1" fill="#000"/>
<rect x="952" y="504" width="3" height="1" fill="#000"/>
<rect x="958" y="504" width="3" height="1" fill="#000"/>
<rect x="964" y="504" width="3" height="1" fill="#000"/>
<rect x="970" y="504" width="3" height="1" fill="#000"/>
<rect x="976" y="504" width="3" height="1" fill="#000"/>
<rect x="982" y="504" width="3" height="1" fill="#000"/>
<rect x="988" y="504" width="3" height="1" fill="#000"/>
<rect x="994" y="504" width="3" height="1" fill="#000"/>
<rect x="1000" y="504" width="3" height="1" fill="#000"/>
<rect x="1006" y="504" width="3" height="1" fill="#000"/>
<rect x="1012" y="504" width="3" height="1" fill="#000"/>
<rect x="1018" y="504" width="3" height="1" fill="#000"/>
<rect x="1024" y="504" width="3" height="1" fill="#000"/>
<rect x="1030" y="504" width="3" height="1" fill="#000"/>
<rect x="1036" y="504" width="3" height="1" fill="#000"/>
<rect x="1042" y="504" width="3" height="1" fill="#000"/>
<rect x="1048" y="504" width="3" height="1" fill="#000"/>
<rect x="1054" y="504" width="3" height="1" fill="#000"/>
<rect x="1060" y="504" width="3" height="1" fill="#000"/>
<rect x="1066" y="504" width="3" height="1" fill="#000"/>
<rect x="1072" y="504" width="3" height="1" fill="#000"/>
<rect x="1078" y="504" width="3" height="1" fill="#000"/>
<rect x="1084" y="504" width="3" height="1" fill="#000"/>
<rect x="1090" y="504" width="3" height="1" fill="#000"/>
<rect x="1096" y="504" width="3" height="1" fill="#000"/>
<rect x="1102" y="504" width="3" height="1" fill="#000"/>
<rect x="1108" y="504" width="3" height="1" fill="#000"/>
<rect x="1114" y="504" width="3" height="1" fill="#000"/>
<rect x="1120" y="504" width="3" height="1" fill="#000"/>
<rect x="1126" y="504" width="3" height="1" fill="#000"/>
<rect x="1132" y="504" width="3" height="1" fill="#000"/>
<rect x="1138" y="504" width="3" height="1" fill="#000"/>
<rect x="1144" y="504" width="3" height="1" fill="#000"/>
<rect x="1150" y="504" width="3" height="1" fill="#000"/>
<rect x="1156" y="504" width="3" height="1" fill="#000"/>
<rect x="1162" y="504" width="3" height="1" fill="#000"/>
<rect x="1168" y="504" width="2" height="1" fill="#000"/>
<rect x="4" y="526" width="3" height="1" fill="#000"/>
<rect x="10" y="526" width="3" height="1" fill="#000"/>
<rect x="16" y="526" width="3" height="1" fill="#000"/>
<rect x="22" y="526" width="3" height="1" fill="#000"/>
<rect x="28" y="526" width="3" height="1" fill="#000"/>
<rect x="34" y="526" width="3" height="1" fill="#000"/>
<rect x="40" y="526" width="3" height="1" fill="#000"/>
<rect x="46" y="526" width="3" height="1" fill="#000"/>
<rect x="52" y="526" width="3" height="1" fill="#000"/>
<rect x="58" y="526" width="3" height="1" fill="#000"/>
<rect x="64" y="526" width="3" height="1" fill="#000"/>
<rect x="70" y="526" width="3" height="1" fill="#000"/>
<rect x="76" y="526" width="3" height="1" fill="#000"/>
<rect x="82" y="526" width="3" height="1" fill="#000"/>
<rect x="88" y="526" width="3" height="1" fill="#000"/>
<rect x="94" y="526" width="3" height="1" fill="#000"/>
<rect x="100" y="526" width="3" height="1" fill="#000"/>
<rect x="106" y="526" width="3" height="1" fill="#000"/>
<rect x="112" y="526" width="3" height="1" fill="#000"/>
<rect x="118" y="526" width="3" height="1" fill="#000"/>
<rect x="124" y="526" width="3" height="1" fill="#000"/>
<rect x="130" y="526" width="3" height="1" fill="#000"/>
<rect x="136" y="526" width="3" height="1" fill="#000"/>
<rect x="142" y="526" width="3" height="1" fill="#000"/>
<rect x="148" y="526" width="3" height="1" fill="#000"/>
<rect x="154" y="526" width="3" height="1" fill="#000"/>
<rect x="160" y="526" width="3" height="1" fill="#000"/>
<rect x="166" y="526" width="3" height="1" fill="#000"/>
<rect x="172" y="526" width="3" height="1" fill="#000"/>
<rect x="178" y="526" width="3" height="1" fill="#000"/>
<rect x="184" y="526" width="3" height="1" fill="#000"/>
<rect x="190" y="526" width="3" height="1" fill="#000"/>
<rect x="196" y="526" width="3" height="1" fill="#000"/>
<rect x="202" y="526" width="3" height="1" fill="#000"/>
<rect x="208" y="526" width="3" height="1" fill="#000"/>
<rect x="214" y="526" width="3" height="1" fill="#000"/>
<rect x="220" y="526" width="3" height="1" fill="#000"/>
<rect x="226" y="526" width="3" height="1" fill="#000"/>
<rect x="232" y="526" width="3" height="1" fill="#000"/>
<rect x="238" y="526" width="3" height="1" fill="#000"/>
<rect x="244" y="526" width="3" height="1" fill="#000"/>
<rect x="250" y="526" width="3" height="1" fill="#000"/>
<rect x="256" y="526" width="3" height="1" fill="#000"/>
<rect x="262" y="526" width="3" height="1" fill="#000"/>
<rect x="268" y="526" width="3" height="1" fill="#000"/>
<rect x="274" y="526" width="3" height="1" fill="#000"/>
<rect x="280" y="526" width="3" height="1" fill="#000"/>
<rect x="286" y="526" width="3" height="1" fill="#000"/>
<rect x="292" y="526" width="3" height="1" fill="#000"/>
<rect x="298" y="526" width="3" height="1" fill="#000"/>
<rect x="304" y="526" width="3" height="1" fill="#000"/>
<rect x="310" y="526" width="3" height="1" fill="#000"/>
<rect x="316" y="526" width="3" height="1" fill="#000"/>
<rect x="322" y="526" width="3" height="1" fill="#000"/>
<rect x="328" y="526" width="3" height="1" fill="#000"/>
<rect x="334" y="526" width="3" height="1" fill="#000"/>
<rect x="340" y="526" width="3" height="1" fill="#000"/>
<rect x="346" y="526" width="3" height="1" fill="#000"/>
<rect x="352" y="526" width="3" height="1" fill="#000"/>
<rect x="358" y="526" width="3" height="1" fill="#000"/>
<rect x="364" y="526" width="3" height="1" fill="#000"/>
<rect x="370" y="526" width="3" height="1" fill="#000"/>
<rect x="376" y="526" width="3" height="1" fill="#000"/>
<rect x="382" y="526" width="3" height="1" fill="#000"/>
<rect x="388" y="526" width="3" height="1" fill="#000"/>
<rect x="394" y="526" width="3" height="1" fill="#000"/>
<rect x="400" y="526" width="3" height="1" fill="#000"/>
<rect x="406" y="526" width="3" height="1" fill="#000"/>
<rect x="412" y="526" width="3" height="1" fill="#000"/>
<rect x="418" y="526" width="3" height="1" fill="#000"/>
<rect x="424" y="526" width="3" height="1" fill="#000"/>
<rect x="430" y="526" width="3" height="1" fill="#000"/>
<rect x="436" y="526" width="3" height="1" fill="#000"/>
<rect x="442" y="526" width="3" height="1" fill="#000"/>
<rect x="448" y="526" width="3" height="1" fill="#000"/>
<rect x="454" y="526" width="3" height="1" fill="#000"/>
<rect x="460" y="526" width="3" height="1" fill="#000"/>
<rect x="466" y="526" width="3" height="1" fill="#000"/>
<rect x="472" y="526" width="3" height="1" fill="#000"/>
<rect x="478" y="526" width="3" height="1" fill="#000"/>
<rect x="484" y="526" width="3" height="1" fill="#000"/>
<rect x="490" y="526" width="3" height="1" fill="#000"/>
<rect x="496" y="526" width="3" height="1" fill="#000"/>
<rect x="502" y="526" width="3" height="1" fill="#000"/>
<rect x="508" y="526" width="3" height="1" fill="#000"/>
<rect x="514" y="526" width="3" height="1" fill="#000"/>
<rect x="520" y="526" width="3" height="1" fill="#000"/>
<rect x="526" y="526" width="3" height="1" fill="#000"/>
<rect x="532" y="526" width="3" height="1" fill="#000"/>
<rect x="538" y="526" width="3" height="1" fill="#000"/>
<rect x="544" y="526" width="3" height="1" fill="#000"/>
<rect x="550" y="526" width="3" height="1" fill="#000"/>
<rect x="556" y="526" width="3" height="1" fill="#000"/>
<rect x="562" y="526" width="3" height="1" fill="#000"/>
<rect x="568" y="526" width="3" height="1" fill="#000"/>
<rect x="574" y="526" width="3" height="1" fill="#000"/>
<rect x="580" y="526" width="3" height="1" fill="#000"/>
<rect x="586" y="526" width="3" height="1" fill="#000"/>
<rect x="592" y="526" width="3" height="1" fill="#000"/>
<rect x="598" y="526" width="3" height="1" fill="#000"/>
<rect x="604" y="526" width="3" height="1" fill="#000"/>
<rect x="610" y="526" width="3" height="1" fill="#000"/>
<rect x="616" y="526" width="3" height="1" fill="#000"/>
<rect x="622" y="526" width="3" height="1" fill="#000"/>
<rect x="628" y="526" width="3" height="1" fill="#000"/>
<rect x="634" y="526" width="3" height="1" fill="#000"/>
<rect x="640" y="526" width="3" height="1" fill="#000"/>
<rect x="646" y="526" width="3" height="1" fill="#000"/>
<rect x="652" y="526" width="3" height="1" fill="#000"/>
<rect x="658" y="526" width="3" height="1" fill="#000"/>
<rect x="664" y="526" width="3" height="1" fill="#000"/>
<rect x="670" y="526" width="3" height="1" fill="#000"/>
<rect x="676" y="526" width="3" height="1" fill="#000"/>
<rect x="682" y="526" width="3" height="1" fill="#000"/>
<rect x="688" y="526" width="3" height="1" fill="#000"/>
<rect x="694" y="526" width="3" height="1" fill="#000"/>
<rect x="700" y="526" width="3" height="1" fill="#000"/>
<rect x="706" y="526" width="3" height="1" fill="#000"/>
<rect x="712" y="526" width="3" height="1" fill="#000"/>
<rect x="718" y="526" width="3" height="1" fill="#000"/>
<rect x="724" y="526" width="3" height="1" fill="#000"/>
<rect x="730" y="526" width="3" height="1" fill="#000"/>
<rect x="736" y="526" width="3" height="1" fill="#000"/>
<rect x="742" y="526" width="3" height="1" fill="#000"/>
<rect x="748" y="526" width="3" height="1" fill="#000"/>
<rect x="754" y="526" width="3" height="1" fill="#000"/>
<rect x="760" y="526" width="3" height="1" fill="#000"/>
<rect x="766" y="526" width="3" height="1" fill="#000"/>
<rect x="772" y="526" width="3" height="1" fill="#000"/>
<rect x="778" y="526" width="3" height="1" fill="#000"/>
<rect x="784" y="526" width="3" height="1" fill="#000"/>
<rect x="790" y="526" width="3" height="1" fill="#000"/>
<rect x="796" y="526" width="3" height="1" fill="#000"/>
<rect x="802" y="526" width="3" height="1" fill="#000"/>
<rect x="808" y="526" width="3" height="1" fill="#000"/>
<rect x="814" y="526" width="3" height="1" fill="#000"/>
<rect x="820" y="526" width="3" height="1" fill="#000"/>
<rect x="826" y="526" width="3" height="1" fill="#000"/>
<rect x="832" y="526" width="3" height="1" fill="#000"/>
<rect x="838" y="526" width="3" height="1" fill="#000"/>
<rect x="844" y="526" width="3" height="1" fill="#000"/>
<rect x="850" y="526" width="3" height="1" fill="#000"/>
<rect x="856" y="526" width="3" height="1" fill="#000"/>
<rect x="862" y="526" width="3" height="1" fill="#000"/>
<rect x="868" y="526" width="3" height="1" fill="#000"/>
<rect x="874" y="526" width="3" height="1" fill="#000"/>
<rect x="880" y="526" width="3" height="1" fill="#000"/>
<rect x="886" y="526" width="3" height="1" fill="#000"/>
<rect x="892" y="526" width="3" height="1" fill="#000"/>
<rect x="898" y="526" width="3" height="1" fill="#000"/>
<rect x="904" y="526" width="3" height="1" fill="#000"/>
<rect x="910" y="526" width="3" height="1" fill="#000"/>
<rect x="916" y="526" width="3" height="1" fill="#000"/>
<rect x="922" y="526" width="3" height="1" fill="#000"/>
<rect x="928" y="526" width="3" height="1" fill="#000"/>
<rect x="934" y="526" width="3" height="1" fill="#000"/>
<rect x="940" y="526" width="3" height="1" fill="#000"/>
<rect x="946" y="526" width="3" height="1" fill="#000"/>
<rect x="952" y="526" width="3" height="1" fill="#000"/>
<rect x="958" y="526" width="3" height="1" fill="#000"/>
<rect x="964" y="526" width="3" height="1" fill="#000"/>
<rect x="970" y="526" width="3" height="1" fill="#000"/>
<rect x="976" y="526" width="3" height="1" fill="#000"/>
<rect x="982" y="526" width="3" height="1" fill="#000"/>
<rect x="988" y="526" width="3" height="1" fill="#000"/>
<rect x="994" y="526" width="3" height="1" fill="#000"/>
<rect x="1000" y="526" width="3" height="1" fill="#000"/>
<rect x="1006" y="526" width="3" height="1" fill="#000"/>
<rect x="1012" y="526" width="3" height="1" fill="#000"/>
<rect x="1018" y="526" width="3" height="1" fill="#000"/>
<rect x="1024" y="526" width="3" height="1" fill="#000"/>
<rect x="1030" y="526" width="3" height="1" fill="#000"/>
<rect x="1036" y="526" width="3" height="1" fill="#000"/>
<rect x="1042" y="526" width="3" height="1" fill="#000"/>
<rect x="1048" y="526" width="3" height="1" fill="#000"/>
<rect x="1054" y="526" width="3" height="1" fill="#000"/>
<rect x="1060" y="526" width="3" height="1" fill="#000"/>
<rect x="1066" y="526" width="3" height="1" fill="#000"/>
<rect x="1072" y="526" width="3" height="1" fill="#000"/>
<rect x="1078" y="526" width="3" height="1" fill="#000"/>
<rect x="1084" y="526" width="3" height="1" fill="#000"/>
<rect x="1090" y="526" width="3" height="1" fill="#000"/>
<rect x="1096" y="526" width="3" height="1" fill="#000"/>
<rect x="1102" y="526" width="3" height="1" fill="#000"/>
<rect x="1108" y="526" width="3" height="1" fill="#000"/>
<rect x="1114" y="526" width="3" height="1" fill="#000"/>
<rect x="1120" y="526" width="3" height="1" fill="#000"/>
<rect x="1126" y="526" width="3" height="1" fill="#000"/>
<rect x="1132" y="526" width="3" height="1" fill="#000"/>
<rect x="1138" y="526" width="3" height="1" fill="#000"/>
<rect x="1144" y="526" width="3" height="1" fill="#000"/>
<rect x="1150" y="526" width="3" height="1" fill="#000"/>
<rect x="1156" y="526" width="3" height="1" fill="#000"/>
<rect x="1162" y="526" width="3" height="1" fill="#000"/>
<rect x="1168" y="526" width="2" height="1" fill="#000"/>
</g>
<polyline points="3.5,509.7 11.5,509.7 19.5,509.7 27.5,510.2 35.5,517.0 43.5,520.2 51.5,514.5 59.5,514.0 67.5,512.0 75.5,510.7 83.5,509.0 91.5,509.0 99.5,516.0 107.5,513.5 115.5,512.7 123.5,512.0 131.5,513.0 139.5,512.7 147.5,512.0 155.5,510.7 163.5,509.5 171.5,508.5 179.5,508.0 187.5,510.2 195.5,512.2 203.5,509.5 211.5,507.7 219.5,507.2 227.5,509.0 235.5,509.0 243.5,507.2 251.5,507.2 259.5,509.0 267.5,510.7 275.5,509.7 283.5,512.0 291.5,514.5 299.5,516.0 307.5,521.5 315.5,522.0 323.5,521.0 331.5,521.0 339.5,524.7 347.5,524.7 355.5,521.5 363.5,521.0 371.5,516.0 379.5,515.7 387.5,517.2 395.5,520.2 403.5,517.7 411.5,517.7 419.5,515.7 427.5,522.0 435.5,524.0 443.5,520.2 451.5,517.7 459.5,518.2 467.5,519.0 475.5,523.5 483.5,523.5 491.5,522.7 499.5,522.0 507.5,521.0 515.5,521.0 523.5,519.0 531.5,519.0 539.5,521.5 547.5,522.0 555.5,522.0 563.5,521.5 571.5,521.0 579.5,519.0 587.5,519.0 595.5,517.7 603.5,517.7 611.5,522.0 619.5,522.0 627.5,524.0 635.5,526.0 643.5,526.0 651.5,526.0 659.5,522.2 667.5,521.5 675.5,520.2 683.5,517.2 691.5,519.0 699.5,519.0 707.5,523.5 715.5,524.0 723.5,523.5 731.5,519.0 739.5,519.7 747.5,519.7 755.5,517.2 763.5,514.0 771.5,512.7 779.5,515.2 787.5,515.2 795.5,515.2 803.5,510.2 811.5,516.0 819.5,519.7 827.5,521.0 835.5,521.0 843.5,519.0 851.5,519.0 859.5,521.0 867.5,523.8 875.5,523.8 883.5,519.9 891.5,518.7 899.5,517.8 907.5,517.0 915.5,515.8" fill="none" stroke="#1e90ff" stroke-width="2" shape-rendering="crispEdges" stroke-linejoin="round"/>
<rect x="1171" y="504" width="2" height="1" fill="#000"/>
<rect x="1171" y="526" width="2" height="1" fill="#000"/>
<text x="1173.3" y="496.8" font-size="10.2" fill="#000" stroke="#000" stroke-width="0.18" textLength="15.5" lengthAdjust="spacingAndGlyphs">100</text>
<text x="1173.3" y="507.8" font-size="10.2" fill="#000" stroke="#000" stroke-width="0.18" textLength="10.3" lengthAdjust="spacingAndGlyphs">70</text>
<text x="1172.8" y="529.8" font-size="10.2" fill="#000" stroke="#000" stroke-width="0.18" textLength="10.3" lengthAdjust="spacingAndGlyphs">30</text>
<text x="1173.6" y="539.6" font-size="10.2" fill="#000" stroke="#000" stroke-width="0.18" textLength="5.2" lengthAdjust="spacingAndGlyphs">0</text>
<rect x="3" y="544" width="1" height="3" fill="#000"/>
<text x="2" y="556" font-size="10.2" fill="#000" stroke="#000" stroke-width="0.18" textLength="49.0" lengthAdjust="spacingAndGlyphs">4 May 2022</text>
<rect x="67" y="544" width="1" height="3" fill="#000"/>
<text x="66" y="556" font-size="10.2" fill="#000" stroke="#000" stroke-width="0.18" textLength="54.0" lengthAdjust="spacingAndGlyphs">13 May 2022</text>
<rect x="131" y="544" width="1" height="3" fill="#000"/>
<text x="130" y="556" font-size="10.2" fill="#000" stroke="#000" stroke-width="0.18" textLength="54.0" lengthAdjust="spacingAndGlyphs">23 May 2022</text>
<rect x="195" y="544" width="1" height="3" fill="#000"/>
<text x="194" y="556" font-size="10.2" fill="#000" stroke="#000" stroke-width="0.18" textLength="45.0" lengthAdjust="spacingAndGlyphs">1 Jun 2022</text>
<rect x="259" y="544" width="1" height="3" fill="#000"/>
<text x="258" y="556" font-size="10.2" fill="#000" stroke="#000" stroke-width="0.18" textLength="50.0" lengthAdjust="spacingAndGlyphs">10 Jun 2022</text>
<rect x="323" y="544" width="1" height="3" fill="#000"/>
<text x="322" y="556" font-size="10.2" fill="#000" stroke="#000" stroke-width="0.18" textLength="50.0" lengthAdjust="spacingAndGlyphs">20 Jun 2022</text>
<rect x="387" y="544" width="1" height="3" fill="#000"/>
<text x="386" y="556" font-size="10.2" fill="#000" stroke="#000" stroke-width="0.18" textLength="50.0" lengthAdjust="spacingAndGlyphs">29 Jun 2022</text>
<rect x="451" y="544" width="1" height="3" fill="#000"/>
<text x="450" y="556" font-size="10.2" fill="#000" stroke="#000" stroke-width="0.18" textLength="42.0" lengthAdjust="spacingAndGlyphs">8 Jul 2022</text>
<rect x="515" y="544" width="1" height="3" fill="#000"/>
<text x="514" y="556" font-size="10.2" fill="#000" stroke="#000" stroke-width="0.18" textLength="47.0" lengthAdjust="spacingAndGlyphs">18 Jul 2022</text>
<rect x="579" y="544" width="1" height="3" fill="#000"/>
<text x="578" y="556" font-size="10.2" fill="#000" stroke="#000" stroke-width="0.18" textLength="47.0" lengthAdjust="spacingAndGlyphs">27 Jul 2022</text>
<rect x="643" y="544" width="1" height="3" fill="#000"/>
<text x="642" y="556" font-size="10.2" fill="#000" stroke="#000" stroke-width="0.18" textLength="47.0" lengthAdjust="spacingAndGlyphs">5 Aug 2022</text>
<rect x="707" y="544" width="1" height="3" fill="#000"/>
<text x="706" y="556" font-size="10.2" fill="#000" stroke="#000" stroke-width="0.18" textLength="52.0" lengthAdjust="spacingAndGlyphs">15 Aug 2022</text>
<rect x="771" y="544" width="1" height="3" fill="#000"/>
<text x="770" y="556" font-size="10.2" fill="#000" stroke="#000" stroke-width="0.18" textLength="52.0" lengthAdjust="spacingAndGlyphs">24 Aug 2022</text>
<rect x="835" y="544" width="1" height="3" fill="#000"/>
<text x="834" y="556" font-size="10.2" fill="#000" stroke="#000" stroke-width="0.18" textLength="46.0" lengthAdjust="spacingAndGlyphs">2 Sep 2022</text>
<rect x="899" y="544" width="1" height="3" fill="#000"/>
<text x="898" y="556" font-size="10.2" fill="#000" stroke="#000" stroke-width="0.18" textLength="51.0" lengthAdjust="spacingAndGlyphs">12 Sep 2022</text>
<rect x="0" y="565" width="1206" height="1" fill="#e8e8e8"/>
<rect x="0" y="566" width="1206" height="1" fill="#000"/>
<rect x="0" y="567" width="1206" height="19" fill="#f0f0f0"/>
<rect x="0" y="586" width="1206" height="2" fill="#fafafa"/>
<rect x="817" y="566" width="90" height="18" fill="#fff"/>
<rect x="816" y="566" width="1" height="19" fill="#000"/>
<rect x="907" y="566" width="1" height="19" fill="#000"/>
<rect x="816" y="584" width="92" height="1" fill="#000"/>
<text x="14.7" y="581" font-size="13.1" fill="#6c6c6c" stroke="#6c6c6c" stroke-width="0" textLength="78.8" lengthAdjust="spacingAndGlyphs">USDX,Weekly</text>
<text x="115.0" y="581" font-size="13.1" fill="#6c6c6c" stroke="#6c6c6c" stroke-width="0" textLength="84.8" lengthAdjust="spacingAndGlyphs">EURUSD-,Daily</text>
<text x="221.6" y="581" font-size="13.1" fill="#6c6c6c" stroke="#6c6c6c" stroke-width="0" textLength="87.9" lengthAdjust="spacingAndGlyphs">AUDUSD-,Daily</text>
<text x="331.6" y="581" font-size="13.1" fill="#6c6c6c" stroke="#6c6c6c" stroke-width="0" textLength="84.6" lengthAdjust="spacingAndGlyphs">USDCHF-,Daily</text>
<text x="438.6" y="581" font-size="13.1" fill="#6c6c6c" stroke="#6c6c6c" stroke-width="0" textLength="86.9" lengthAdjust="spacingAndGlyphs">USDCAD-,Daily</text>
<text x="547.6" y="581" font-size="13.1" fill="#6c6c6c" stroke="#6c6c6c" stroke-width="0" textLength="88.9" lengthAdjust="spacingAndGlyphs">USDCNH-,Daily</text>
<text x="657.6" y="581" font-size="13.1" fill="#6c6c6c" stroke="#6c6c6c" stroke-width="0" textLength="55.2" lengthAdjust="spacingAndGlyphs">HK50-,H1</text>
<text x="733.3" y="581" font-size="13.1" fill="#6c6c6c" stroke="#6c6c6c" stroke-width="0" textLength="72.2" lengthAdjust="spacingAndGlyphs">EURCHF-,H1</text>
<text x="828.2" y="581" font-size="13.1" fill="#000" stroke="#000" stroke-width="0" textLength="68.3" lengthAdjust="spacingAndGlyphs">USOil-,Daily</text>
<text x="918.3" y="581" font-size="13.1" fill="#6c6c6c" stroke="#6c6c6c" stroke-width="0" textLength="57.8" lengthAdjust="spacingAndGlyphs">UKOil-,H4</text>
<text x="998.3" y="581" font-size="13.1" fill="#6c6c6c" stroke="#6c6c6c" stroke-width="0" textLength="75.2" lengthAdjust="spacingAndGlyphs">XAUUSD-,H4</text>
<rect x="104" y="569" width="1" height="14" fill="#606060"/>
<rect x="212" y="569" width="1" height="14" fill="#606060"/>
<rect x="320" y="569" width="1" height="14" fill="#606060"/>
<rect x="428" y="569" width="1" height="14" fill="#606060"/>
<rect x="536" y="569" width="1" height="14" fill="#606060"/>
<rect x="648" y="569" width="1" height="14" fill="#606060"/>
<rect x="724" y="569" width="1" height="14" fill="#606060"/>
<rect x="988" y="569" width="1" height="14" fill="#606060"/>
<rect x="1084" y="569" width="1" height="14" fill="#606060"/>
<polygon fill="#8a8a8a" shape-rendering="geometricPrecision" points="1184,571.5 1184,578.5 1180.5,575"/>
<polygon fill="#8a8a8a" shape-rendering="geometricPrecision" points="1200,571.5 1200,578.5 1203.5,575"/>
</svg>
</body></html>
